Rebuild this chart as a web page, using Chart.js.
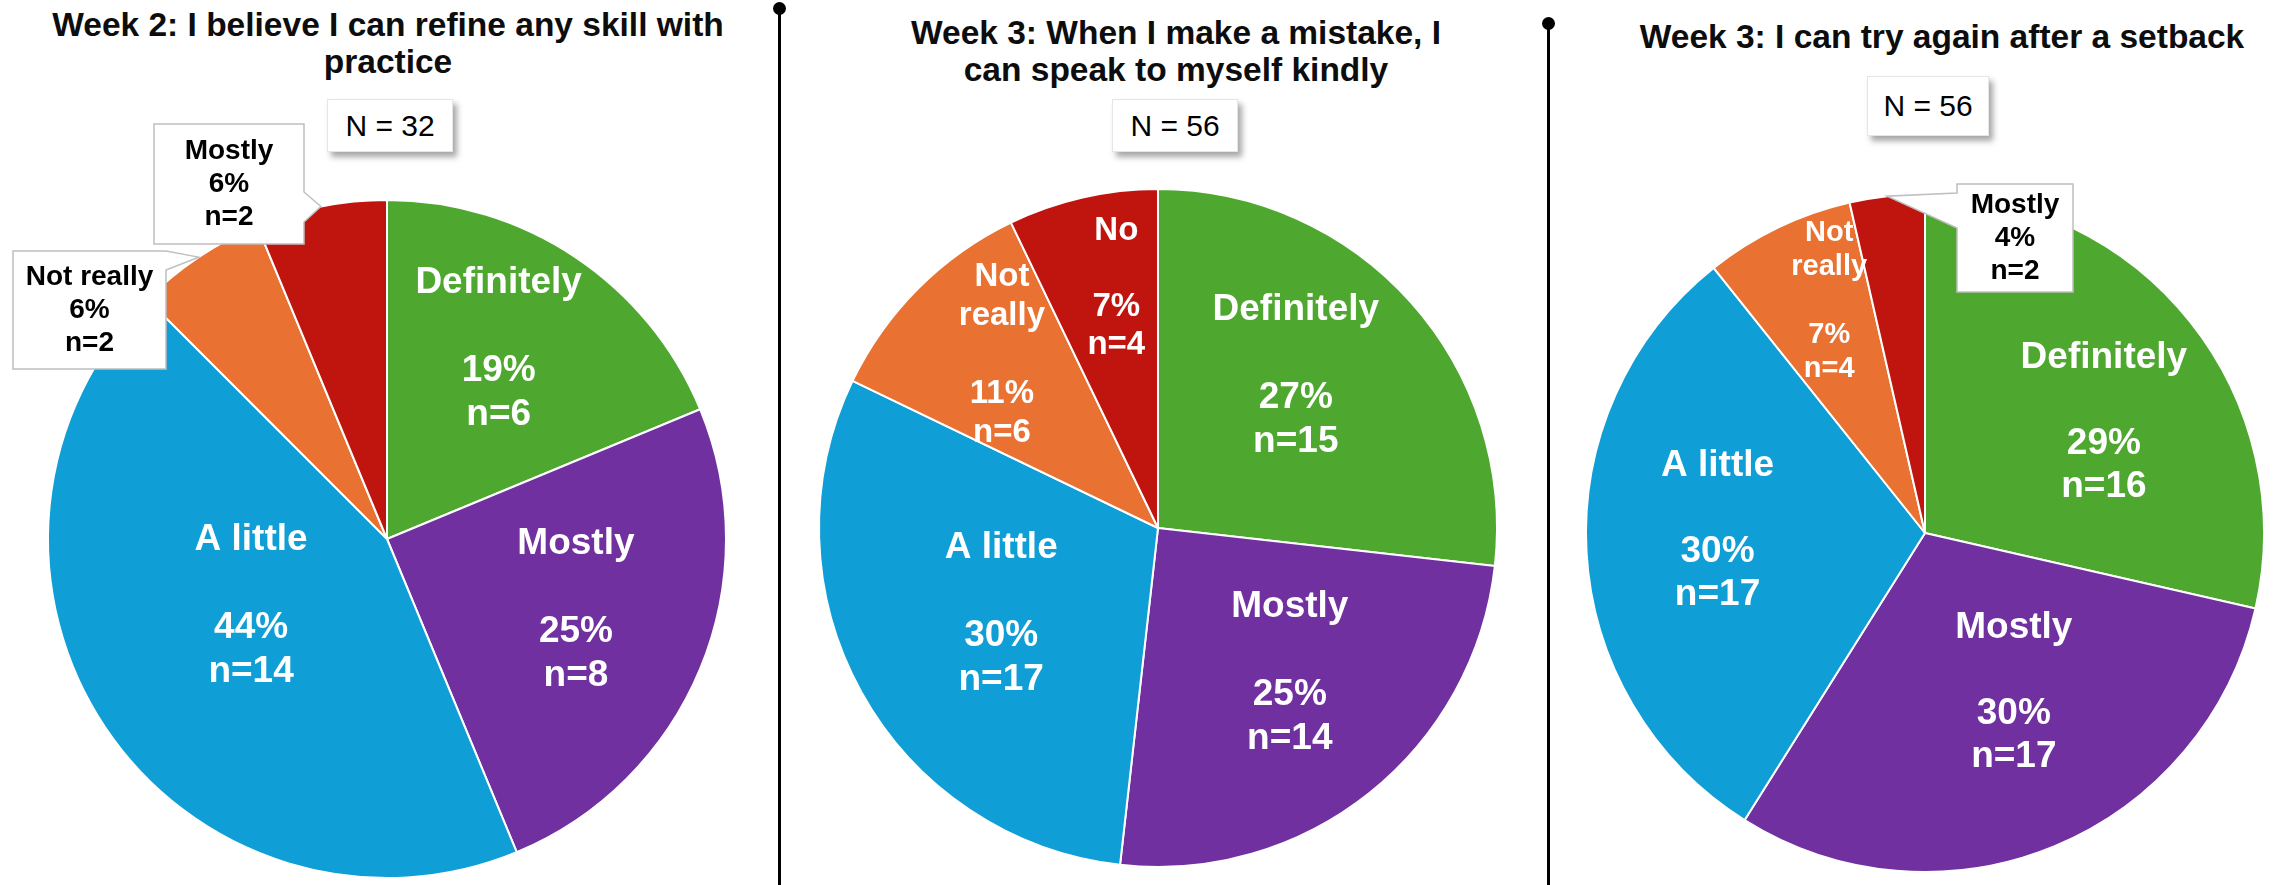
<!DOCTYPE html>
<html>
<head>
<meta charset="utf-8">
<script src="https://cdn.jsdelivr.net/npm/chart.js@4.4.1/dist/chart.umd.min.js"></script>
<style>
  body { margin: 0; width: 2275px; height: 885px; background: #fff; position: relative; overflow: hidden;
         font-family: "Liberation Sans", Arial, sans-serif; }
  canvas { position: absolute; top: 0; }
  .title { position: absolute; transform: translateX(-50%); text-align: center; font-weight: bold;
           font-size: 33.5px; line-height: 37px; color: #0d0d0d; white-space: nowrap; }
  .nbox { position: absolute; background: #fff; border: 1px solid #e6e6e6; box-shadow: 4px 5px 6px rgba(0,0,0,0.35);
          font-size: 30px; display: flex; align-items: center; justify-content: center; color: #000; }
  .divider { position: absolute; width: 3px; background: #000; bottom: 0; }
  .divider::before { content: ''; position: absolute; width: 13px; height: 13px; border-radius: 50%;
                     background: #000; left: -5px; top: -6px; }
</style>
</head>
<body>
<div class="title" style="left:388px; top:6px;">Week 2: I believe I can refine any skill with<br>practice</div>
<div class="title" style="left:1176px; top:14px;">Week 3: When I make a mistake, I<br>can speak to myself kindly</div>
<div class="title" style="left:1942px; top:18px;">Week 3: I can try again after a setback</div>

<div class="nbox" id="n1" style="left:327px; top:99px; width:124px; height:51px;"></div>
<div class="nbox" id="n2" style="left:1112px; top:99px; width:124px; height:51px;"></div>
<div class="nbox" id="n3" style="left:1867px; top:76px; width:120px; height:58px;"></div>

<div class="divider" style="left:778px; top:8px;"></div>
<div class="divider" style="left:1547px; top:23px;"></div>

<canvas id="pieSkill" width="774" height="885" style="left:0px;"></canvas>
<canvas id="pieKind" width="754" height="885" style="left:781px;"></canvas>
<canvas id="pieSetback" width="700" height="885" style="left:1575px;"></canvas>

<script>
// Survey answers, clockwise from 12 o'clock
const categories = ['Definitely', 'Mostly', 'A little', 'Not really', 'No'];
const week2SkillCounts = [6, 8, 14, 2, 2];
const week3KindCounts = [15, 14, 17, 6, 4];
const week3SetbackCounts = [16, 17, 17, 4, 2];

// names as printed on each slice (the red callouts read "Mostly" in the source)
const week2SkillNames = ['Definitely', 'Mostly', 'A little', 'Not really', 'Mostly'];
const week3KindNames = ['Definitely', 'Mostly', 'A little', 'Not really', 'No'];
const week3SetbackNames = ['Definitely', 'Mostly', 'A little', 'Not really', 'Mostly'];

const sampleSizes = [32, 56, 56];
const sliceColors = ['#4EA72E', '#7030A0', '#0F9ED5', '#E97132', '#C0150F'];

document.getElementById('n1').textContent = 'N = ' + sampleSizes[0];
document.getElementById('n2').textContent = 'N = ' + sampleSizes[1];
document.getElementById('n3').textContent = 'N = ' + sampleSizes[2];

function drawLines(ctx, lines, x, y, size, lh, color) {
    ctx.font = 'bold ' + size + 'px "Liberation Sans", Arial, sans-serif';
    ctx.fillStyle = color;
    ctx.textAlign = 'center';
    ctx.textBaseline = 'middle';
    const top = y - (lines.length - 1) * lh / 2;
    lines.forEach((t, k) => { if (t) ctx.fillText(t, x, top + k * lh); });
}

// Data labels: inside the slice, or in a callout box pointing at the slice edge
const sliceLabels = {
    id: 'sliceLabels',
    afterDatasetsDraw(chart, args, opts) {
        const ctx = chart.ctx;
        const values = chart.data.datasets[0].data;
        const total = values.reduce((a, b) => a + b, 0);
        chart.getDatasetMeta(0).data.forEach((arc, i) => {
            const spot = opts.spots[i];
            const p = arc.getProps(['x', 'y', 'startAngle', 'endAngle', 'outerRadius'], true);
            const mid = (p.startAngle + p.endAngle) / 2;
            const pct = Math.round(values[i] / total * 100) + '%';
            const name = opts.names[i];
            ctx.save();
            if (spot.callout) {
                const tipX = p.x + Math.cos(mid) * p.outerRadius;
                const tipY = p.y + Math.sin(mid) * p.outerRadius;
                const [bx, by, bw, bh] = spot.callout;
                const x0 = p.x + bx, y0 = p.y + by, x1 = x0 + bw, y1 = y0 + bh;
                const [b1, b2] = spot.base;
                ctx.beginPath();
                ctx.moveTo(x0, y0);
                if (spot.side === 'right') {
                    ctx.lineTo(x1, y0);
                    ctx.lineTo(x1, y0 + b1);
                    ctx.lineTo(tipX, tipY);
                    ctx.lineTo(x1, y0 + b2);
                    ctx.lineTo(x1, y1);
                    ctx.lineTo(x0, y1);
                } else {
                    ctx.lineTo(x1, y0);
                    ctx.lineTo(x1, y1);
                    ctx.lineTo(x0, y1);
                    ctx.lineTo(x0, y0 + b2);
                    ctx.lineTo(tipX, tipY);
                    ctx.lineTo(x0, y0 + b1);
                }
                ctx.closePath();
                ctx.fillStyle = '#fff';
                ctx.fill();
                ctx.strokeStyle = '#bfbfbf';
                ctx.lineWidth = 1.5;
                ctx.stroke();
                drawLines(ctx, [name, pct, 'n=' + values[i]], (x0 + x1) / 2, (y0 + y1) / 2, spot.size, spot.lh, '#000');
            } else {
                const a = mid + spot.turn * Math.PI / 180;
                const cx = p.x + Math.cos(a) * p.outerRadius * spot.r;
                const cy = p.y + Math.sin(a) * p.outerRadius * spot.r;
                const head = spot.split ? name.split(' ') : [name];
                drawLines(ctx, [...head, '', pct, 'n=' + values[i]], cx, cy, spot.size, spot.lh, '#fff');
            }
            ctx.restore();
        });
    }
};

function makePie(id, counts, names, spots, pad) {
    new Chart(document.getElementById(id), {
        type: 'pie',
        data: {
            labels: categories,
            datasets: [{
                data: counts,
                backgroundColor: sliceColors,
                borderColor: '#ffffff',
                borderWidth: 2
            }]
        },
        options: {
            responsive: false,
            animation: false,
            layout: { padding: pad },
            plugins: {
                legend: { display: false },
                tooltip: { enabled: false },
                sliceLabels: { names: names, spots: spots }
            }
        },
        plugins: [sliceLabels]
    });
}

makePie('pieSkill', week2SkillCounts, week2SkillNames, [
    { r: 0.65, turn: -3.3, size: 37, lh: 44 },
    { r: 0.595, turn: -2, size: 37, lh: 44 },
    { r: 0.447, turn: 7.5, size: 37, lh: 44 },
    { callout: [-374, -288, 153, 118], side: 'right', base: [0, 19], size: 28, lh: 33 },
    { callout: [-233, -415, 150, 120], side: 'right', base: [68, 98], size: 28, lh: 33 }
], { top: 199, bottom: 6, left: 0, right: 0 });

makePie('pieKind', week3KindCounts, week3KindNames, [
    { r: 0.605, turn: -6, size: 37, lh: 44 },
    { r: 0.578, turn: -3.7, size: 37, lh: 44 },
    { r: 0.527, turn: 0.3, size: 37, lh: 44 },
    { r: 0.688, turn: 3, size: 33, lh: 39, split: true },
    { r: 0.718, turn: 3, size: 33, lh: 38 }
], { top: 188, bottom: 17, left: 0, right: 0 });

makePie('pieSetback', week3SetbackCounts, week3SetbackNames, [
    { r: 0.62, turn: 6.9, size: 37, lh: 43 },
    { r: 0.537, turn: -6.7, size: 37, lh: 43 },
    { r: 0.612, turn: 3.9, size: 37, lh: 43 },
    { r: 0.741, turn: 3.3, size: 29, lh: 34, split: true },
    { callout: [32, -349, 116, 108], side: 'left', base: [9, 44], size: 28, lh: 33 }
], { top: 193, bottom: 12, left: 0, right: 0 });
</script>
</body>
</html>
